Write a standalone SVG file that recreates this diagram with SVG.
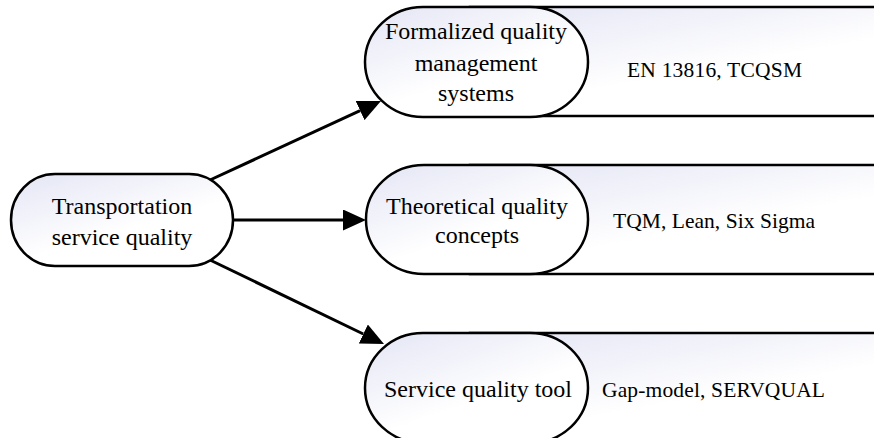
<svg xmlns="http://www.w3.org/2000/svg" width="874" height="438" viewBox="0 0 874 438">
<defs>
<linearGradient id="g" x1="0" y1="0" x2="0.7" y2="1">
<stop offset="0" stop-color="#e3e5f4"/>
<stop offset="0.65" stop-color="#ffffff"/>
<stop offset="1" stop-color="#ffffff"/>
</linearGradient>
<marker id="ah" markerUnits="userSpaceOnUse" markerWidth="23" markerHeight="21" refX="0" refY="10.5" orient="auto" viewBox="0 0 23 21">
<path d="M0,0 L23,10.5 L0,21 z" fill="#000"/>
</marker>
<style>
.shape{fill:url(#g);stroke:#000;stroke-width:2.5}
.t{font-family:"Liberation Serif","Times New Roman",serif;font-size:24px;fill:#000;text-anchor:middle}
.l{font-family:"Liberation Serif","Times New Roman",serif;font-size:21.5px;fill:#000}
.c{stroke:#000;stroke-width:3;fill:none;marker-end:url(#ah)}
</style>
</defs>
<rect width="874" height="438" fill="#fff"/>
<g id="connectors">
<line class="c" x1="210" y1="180" x2="360.1" y2="110.6"/>
<line class="c" x1="233" y1="220" x2="343" y2="220"/>
<line class="c" x1="210" y1="260" x2="363.3" y2="334"/>
</g>
<g id="n-root">
<rect class="shape" x="11" y="174" width="222" height="92" rx="44" ry="46"/>
<text class="t" x="122" y="214">Transportation</text>
<text class="t" x="122" y="245">service quality</text>
</g>
<g id="n-formal">
<rect class="shape" x="470" y="7" width="420" height="109"/>
<rect class="shape" x="365" y="7" width="223" height="110" rx="58" ry="55"/>
<text class="t" x="476" y="39">Formalized quality</text>
<text class="t" x="476" y="71">management</text>
<text class="t" x="476" y="101">systems</text>
<text class="l" x="627" y="77" textLength="175" lengthAdjust="spacing">EN 13816, TCQSM</text>
</g>
<g id="n-theory">
<rect class="shape" x="470" y="165" width="420" height="109"/>
<rect class="shape" x="366" y="165" width="222" height="109" rx="58" ry="54"/>
<text class="t" x="477" y="214">Theoretical quality</text>
<text class="t" x="477" y="243">concepts</text>
<text class="l" x="613" y="228" textLength="202" lengthAdjust="spacing">TQM, Lean, Six Sigma</text>
</g>
<g id="n-tool">
<rect class="shape" x="470" y="333" width="420" height="110"/>
<rect class="shape" x="365" y="333" width="223" height="110" rx="58" ry="55"/>
<text class="t" x="478" y="397">Service quality tool</text>
<text class="l" x="602" y="397" textLength="223" lengthAdjust="spacing">Gap-model, SERVQUAL</text>
</g>
</svg>
